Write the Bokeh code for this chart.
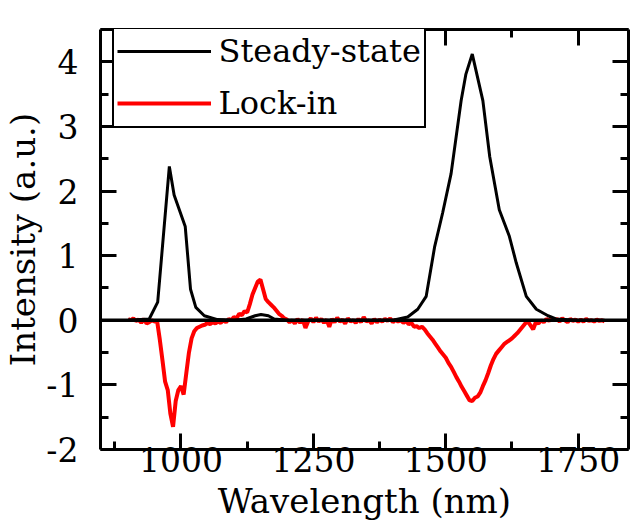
from bokeh.plotting import figure
from bokeh.models import (LinearAxis, FixedTicker, Span, Legend, LegendItem, CustomJSTickFormatter)
from bokeh.embed import file_html
from bokeh.resources import INLINE

# ---------------- data ----------------
steady_wl = [900, 940, 956, 978, 987, 1008, 1018, 1028, 1044, 1069, 1100, 1123, 1140,
             1151, 1165, 1176, 1200, 1400, 1428, 1447, 1463, 1479, 1494, 1510, 1529,
             1538, 1550, 1570, 1583, 1601, 1620, 1633, 1652, 1671, 1693, 1708, 1750, 1800]
steady_int = [0, 0.02, 0.28, 2.38, 1.94, 1.45, 0.48, 0.2, 0.07, 0.01, 0, 0.02, 0.07,
              0.09, 0.07, 0.02, 0, 0, 0.05, 0.17, 0.37, 1.14, 1.66, 2.27, 3.40,
              3.81, 4.12, 3.40, 2.53, 1.71, 1.30, 0.89, 0.37, 0.17, 0.07, 0.02, 0, 0]

lockin_wl = list(range(900, 1805, 5))
lockin_int = [
    0.02, 0.0, 0.03, -0.01, 0.01, -0.04, 0.02, -0.05, -0.03, 0.0,          # 900-945
    -0.02, -0.02, -0.3, -0.62, -0.95, -1.08, -1.45, -1.65, -1.25, -1.08,   # 950-995
    -1.02, -1.15, -0.82, -0.5, -0.28, -0.17, -0.12, -0.1, -0.08, -0.07,    # 1000-1045
    -0.04, -0.06, -0.03, -0.05, -0.02, -0.04, 0.0, -0.03, 0.02, 0.0,       # 1050-1095
    0.05, 0.03, 0.1, 0.08, 0.14, 0.12, 0.25, 0.4, 0.5, 0.6,                # 1100-1145
    0.63, 0.48, 0.33, 0.28, 0.24, 0.2, 0.15, 0.1, 0.07, 0.03,              # 1150-1195
    0.01, -0.03, 0.0, -0.05, 0.02, -0.04, 0.01, -0.12, -0.02, 0.03,        # 1200-1245
    -0.03, 0.04, -0.02, 0.02, -0.04, 0.01, -0.1, 0.02, -0.03, 0.04,        # 1250-1295
    -0.02, 0.01, -0.05, 0.03, -0.02, 0.0, -0.04, 0.02, -0.03, 0.05,        # 1300-1345
    -0.02, 0.0, -0.05, 0.02, -0.03, 0.01, -0.02, 0.02, -0.01, 0.03,        # 1350-1395
    -0.03, 0.01, -0.02, 0.0, -0.04, -0.01, -0.06, -0.04, -0.1, -0.09,      # 1400-1445
    -0.12, -0.1, -0.14, -0.2, -0.25, -0.3, -0.36, -0.42, -0.48, -0.53,     # 1450-1495
    -0.58, -0.66, -0.72, -0.8, -0.88, -0.95, -1.03, -1.1, -1.17, -1.24,    # 1500-1545
    -1.25, -1.2, -1.18, -1.12, -1.02, -0.93, -0.82, -0.7, -0.6, -0.52,     # 1550-1595
    -0.47, -0.42, -0.37, -0.34, -0.31, -0.28, -0.24, -0.2, -0.15, -0.1,    # 1600-1645
    -0.05, -0.02, -0.08, -0.14, -0.03, -0.05, 0.0, -0.03, 0.02, -0.01,     # 1650-1695
    0.03, 0.0, 0.02, -0.02, 0.03, 0.0, -0.03, 0.02, -0.01, 0.01,           # 1700-1745
    -0.02, 0.01, -0.02, 0.02, -0.01, 0.0, -0.02, 0.01, -0.01, 0.0,         # 1750-1795
    -0.02,                                                                 # 1800
]

x_major = [1000, 1250, 1500, 1750]
x_minor = [875, 1125, 1375, 1625]
y_major = [-2, -1, 0, 1, 2, 3, 4]
y_minor = [-1.5, -0.5, 0.5, 1.5, 2.5, 3.5, 4.5]
y_labels = {-2: "-2", -1: "-1"}

FONT = "DejaVu Serif"

p = figure(frame_width=528, frame_height=420, x_range=(848, 1845), y_range=(-2, 4.5),
           output_backend="svg", toolbar_location=None,
           x_axis_label="Wavelength (nm)", y_axis_label="Intensity (a.u.)",
           min_border_top=29, min_border_right=3, min_border_left=10, min_border_bottom=10)
p.outline_line_color = None
p.xgrid.visible = False
p.ygrid.visible = False
p.background_fill_color = "white"
p.border_fill_color = "white"

r_lock = p.line(lockin_wl, lockin_int, line_color="#ff0000", line_width=4)
r_steady = p.line(steady_wl, steady_int, line_color="black", line_width=3)

p.add_layout(Span(location=0, dimension="width", line_color="black", line_width=3.5))

def style_axis(ax, ticks, minor, labels=True):
    ax.ticker = FixedTicker(ticks=ticks, minor_ticks=minor)
    ax.axis_line_width = 3
    ax.axis_line_color = "black"
    ax.major_tick_line_width = 3
    ax.minor_tick_line_width = 3
    ax.major_tick_in = 16
    ax.major_tick_out = 0
    ax.minor_tick_in = 8
    ax.minor_tick_out = 0
    ax.major_label_text_font = FONT
    ax.axis_label_text_font = FONT
    ax.axis_label_text_font_style = "normal"
    ax.axis_label_text_color = "black"
    ax.major_label_text_color = "black"
    if labels:
        ax.major_label_text_font_size = "33px"
        ax.axis_label_text_font_size = "34px"
    else:
        ax.formatter = CustomJSTickFormatter(code="return ''")
        ax.major_label_standoff = 0

xa = p.xaxis[0]
ya = p.yaxis[0]
style_axis(xa, x_major, x_minor)
style_axis(ya, y_major, y_minor)
ya.major_label_overrides = y_labels
xa.major_label_standoff = -3
xa.axis_label_standoff = 6
ya.major_label_standoff = 22
ya.axis_label_standoff = 0

top_ax = LinearAxis()
style_axis(top_ax, x_major, x_minor, labels=False)
right_ax = LinearAxis()
style_axis(right_ax, y_major, y_minor, labels=False)
p.add_layout(top_ax, "above")
p.add_layout(right_ax, "right")

legend = Legend(items=[LegendItem(label="Steady-state", renderers=[r_steady]),
                       LegendItem(label="Lock-in", renderers=[r_lock])],
                location=(11.5, 321))
legend.label_text_font = FONT
legend.label_text_font_size = "32px"
legend.label_text_color = "black"
legend.glyph_width = 94
legend.glyph_height = 40
legend.label_height = 40
legend.label_standoff = 8
legend.padding = 3
legend.spacing = 12
legend.margin = 0
legend.border_line_color = "black"
legend.border_line_alpha = 1.0
legend.border_line_width = 2
legend.background_fill_color = "white"
legend.background_fill_alpha = 1.0
p.add_layout(legend)

open("out.html", "w").write(file_html(p, INLINE))
